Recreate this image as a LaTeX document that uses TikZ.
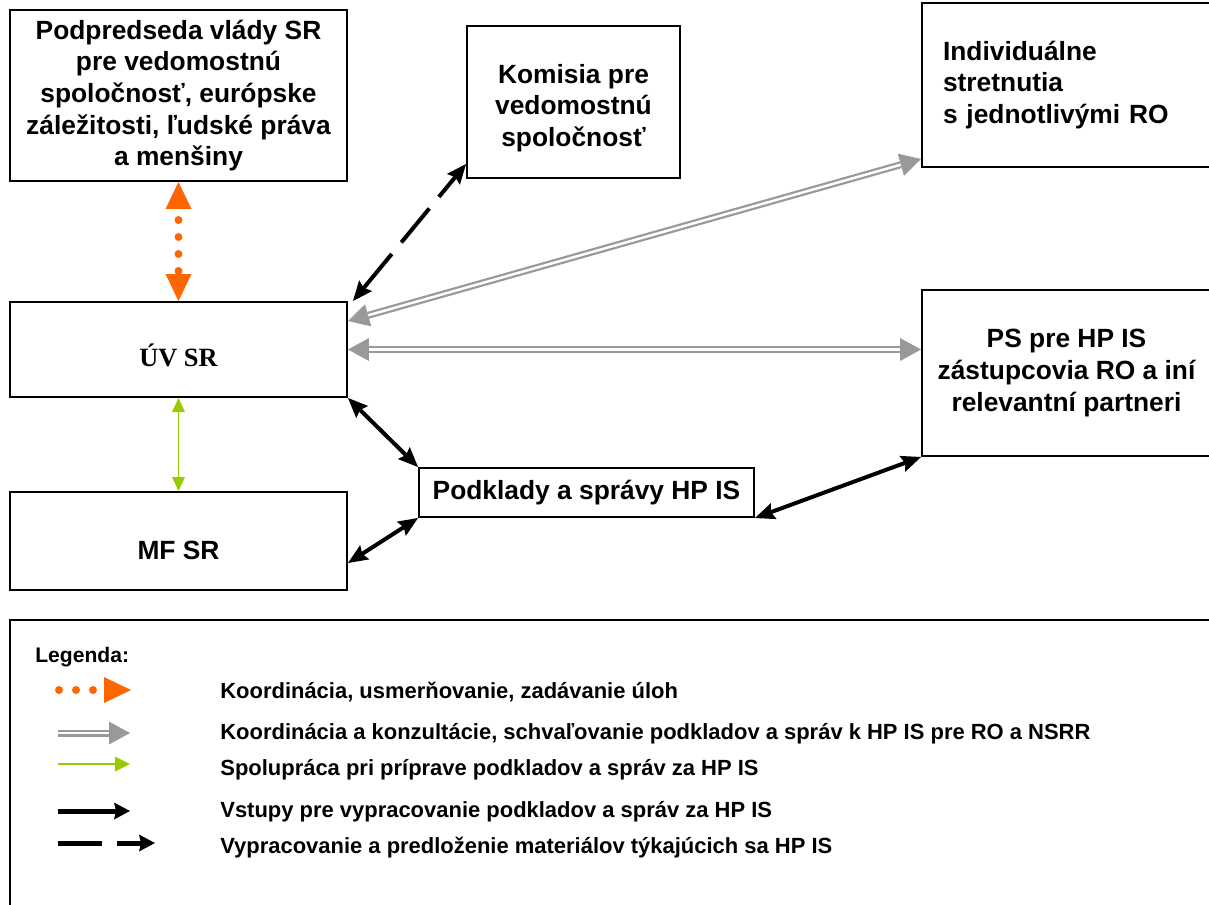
\documentclass[tikz,border=0pt]{standalone}
\usepackage{fontspec}
\setmainfont{Liberation Sans}
\newfontfamily\timesfont{Liberation Serif}
\usetikzlibrary{arrows.meta}
\definecolor{orangeline}{RGB}{255,102,0}
\definecolor{grayline}{RGB}{153,153,153}
\definecolor{greenline}{RGB}{153,204,0}
\tikzset{
	box/.style = {draw, line width = 0.04cm, align = center, font = \fontsize{15}{18}\selectfont\bfseries},
	legtext/.style = {anchor = west, inner sep = 0pt, font = \fontsize{12.5}{14}\selectfont\bfseries},
	otip/.tip = {Triangle[length = 0.54cm, width = 0.52cm, line width = 0pt]},
	gtip/.tip = {Triangle[length = 0.42cm, width = 0.46cm, line width = 0pt]},
	gltip/.tip = {Triangle[length = 0.28cm, width = 0.26cm, line width = 0pt]},
	btip/.tip = {Stealth[length = 0.4cm, width = 0.34cm, inset = 0.06cm, line width = 0pt]},
	bltip/.tip = {Stealth[length = 0.32cm, width = 0.34cm, inset = 0.04cm, line width = 0pt]},
	orangedots/.style = {draw = orangeline, line width = 0.16cm, line cap = round, dash pattern = on 0pt off 0.34cm, dash phase = 0.12cm},
	grayarrow/.style = {draw = grayline, double = white, double distance = 0.05cm, line width = 0.045cm},
	greenarrow/.style = {draw = greenline, line width = 0.03cm},
	blackarrow/.style = {draw = black, line width = 0.08cm},
	dashline/.style = {dash pattern = on 0.88cm off 0.3cm}
}
\begin{document}
\begin{tikzpicture}[x = 0.02cm, y = -0.02cm]
	\useasboundingbox (0, 0) rectangle (1209, 904);
	\clip (0, 0) rectangle (1209, 904);
	\node[box, minimum width = 6.74cm, minimum height = 3.42cm] (podpredseda) at (178.5, 95.5) {Podpredseda vlády SR\\pre vedomostnú\\spoločnosť, európske\\záležitosti, ľudské práva\\a menšiny};
	\node[box, minimum width = 4.26cm, minimum height = 3.04cm] (komisia) at (573.5, 102) {\rule{0pt}{17.8pt}Komisia pre\\vedomostnú\\spoločnosť};
	\node[box, align = left, text width = 4.94cm, inner sep = 0.42cm, minimum height = 3.28cm] (individualne) at (1066.5, 85) {Individuálne\\stretnutia\\s jednotlivými RO};
	\node[box, font = \fontsize{15}{18}\selectfont\timesfont\bfseries, text height = 0.66cm, text depth = 0cm, minimum width = 6.74cm, minimum height = 1.9cm] (uv) at (178.5, 349.5) {ÚV SR};
	\node[box, minimum width = 5.78cm, minimum height = 3.32cm] (ps) at (1066.5, 373) {PS pre HP IS\\zástupcovia RO a iní\\relevantní partneri};
	\node[box, minimum width = 6.7cm, minimum height = 0.98cm] (podklady) at (586.5, 492.5) {Podklady a správy HP IS};
	\node[box, text height = 0.74cm, text depth = 0cm, minimum width = 6.74cm, minimum height = 1.96cm] (mf) at (178.5, 541) {MF SR};
	\draw[orangedots, otip-otip] (podpredseda.south) -- (uv.north);
	\draw[blackarrow, dashline, btip-btip] ([xshift = 0.1cm]uv.north east) -- ([yshift = 0.3cm]komisia.south west);
	\draw[grayarrow, gtip-gtip] ([yshift = -0.4cm]uv.north east) -- ([yshift = 0.18cm]individualne.south west);
	\draw[grayarrow, gtip-gtip] (uv.east) -- (uv.east -| ps.west);
	\draw[greenarrow, gltip-gltip] (uv.south) -- (mf.north);
	\draw[blackarrow, btip-btip] (uv.south east) -- (podklady.north west);
	\draw[blackarrow, btip-btip] ([yshift = -0.44cm]mf.east) -- (podklady.south west);
	\draw[blackarrow, btip-btip] (podklady.south east) -- (ps.south west);
	\draw[line width = 0.04cm] (10, 620) rectangle (1230, 930);
	\node[legtext, font = \fontsize{12}{14}\selectfont\bfseries] (legenda) at (35, 657) {Legenda:};
	\node[legtext] (koordinacia) at (220, 692) {Koordinácia, usmerňovanie, zadávanie úloh};
	\node[legtext] (konzultacie) at (220, 734) {Koordinácia a konzultácie, schvaľovanie podkladov a správ k HP IS pre RO a NSRR};
	\node[legtext] (spolupraca) at (220, 770) {Spolupráca pri príprave podkladov a správ za HP IS};
	\node[legtext] (vstupy) at (220, 812) {Vstupy pre vypracovanie podkladov a správ za HP IS};
	\node[legtext] (vypracovanie) at (220, 848) {Vypracovanie a predloženie materiálov týkajúcich sa HP IS};
	\draw[orangedots, dash phase = 0cm, -otip] (59, 690) -- (131, 690);
	\draw[grayarrow, -gtip] (58, 733) -- (130, 733);
	\draw[greenarrow, -{Triangle[length = 0.3cm, width = 0.3cm, line width = 0pt]}] (58, 764) -- (130, 764);
	\draw[blackarrow, line width = 0.1cm, -bltip] (58, 811) -- (130, 811);
	\draw[blackarrow, line width = 0.1cm, dashline, -bltip] (58, 843) -- (155, 843);
\end{tikzpicture}
\end{document}
